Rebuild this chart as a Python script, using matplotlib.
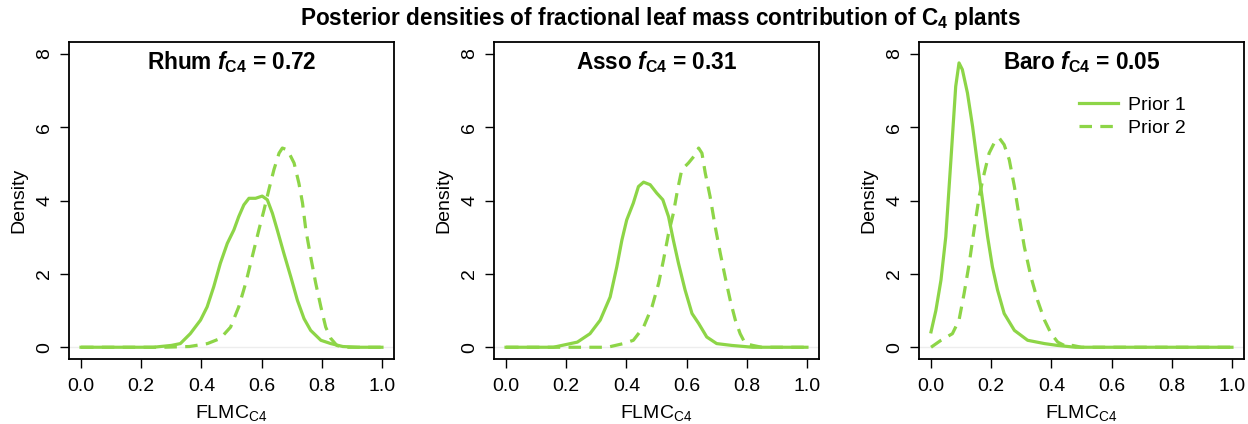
import numpy as np
import matplotlib
matplotlib.use("Agg")
import matplotlib.pyplot as plt

plt.rcParams['font.family'] = ['Liberation Sans', 'DejaVu Sans']
plt.rcParams['mathtext.fontset'] = 'custom'
plt.rcParams['mathtext.rm'] = 'Liberation Sans'
plt.rcParams['mathtext.it'] = 'Liberation Sans:italic:bold'
plt.rcParams['mathtext.bf'] = 'Liberation Sans:bold'
plt.rcParams['lines.scale_dashes'] = False

sites = ["Rhum", "Asso", "Baro"]
fc4 = ["0.72", "0.31", "0.05"]

# densities (x = FLMC_C4, y = density)
rhum_p1_x = [0.0, 0.24, 0.30, 0.33, 0.363, 0.397, 0.419, 0.441, 0.463, 0.486, 0.508, 0.524, 0.541, 0.558, 0.58, 0.602,
             0.619, 0.636, 0.652, 0.674, 0.697, 0.719, 0.741, 0.763, 0.797, 0.83, 0.87, 0.92, 1.0]
rhum_p1_y = [0.0, 0.0, 0.05, 0.1, 0.37, 0.74, 1.1, 1.65, 2.29, 2.83, 3.2, 3.56, 3.88, 4.06, 4.06, 4.12,
             4.02, 3.65, 3.2, 2.56, 1.92, 1.28, 0.78, 0.46, 0.19, 0.1, 0.02, 0.0, 0.0]
rhum_p2_x = [0.0, 0.27, 0.36, 0.42, 0.463, 0.497, 0.524, 0.547, 0.569, 0.591, 0.608, 0.624, 0.641, 0.658, 0.669, 0.686,
             0.708, 0.724, 0.736, 0.747, 0.763, 0.78, 0.797, 0.813, 0.83, 0.85, 0.87, 1.0]
rhum_p2_y = [0.0, 0.0, 0.02, 0.1, 0.24, 0.55, 1.1, 1.74, 2.47, 3.2, 3.74, 4.29, 4.84, 5.29, 5.43, 5.38,
             5.02, 4.47, 3.93, 3.2, 2.47, 1.74, 1.1, 0.55, 0.24, 0.05, 0.0, 0.0]

asso_p1_x = [0.0, 0.157, 0.237, 0.279, 0.313, 0.346, 0.368, 0.385, 0.401, 0.423, 0.44, 0.457, 0.479, 0.501, 0.521,
             0.54, 0.556, 0.573, 0.595, 0.618, 0.64, 0.667, 0.70, 0.75, 0.82, 1.0]
asso_p1_y = [0.0, 0.0, 0.14, 0.37, 0.74, 1.37, 2.19, 2.92, 3.47, 3.93, 4.38, 4.5, 4.43, 4.2, 4.02,
             3.56, 2.92, 2.29, 1.56, 0.92, 0.65, 0.28, 0.1, 0.05, 0.0, 0.0]
asso_p2_x = [0.0, 0.2, 0.337, 0.39, 0.423, 0.457, 0.485, 0.507, 0.523, 0.54, 0.556, 0.57, 0.584, 0.606, 0.629, 0.64,
             0.651, 0.662, 0.678, 0.695, 0.712, 0.728, 0.745, 0.762, 0.778, 0.795, 0.82, 0.85, 1.0]
asso_p2_y = [0.0, 0.0, 0.0, 0.1, 0.19, 0.55, 1.1, 1.74, 2.37, 3.1, 3.65, 4.29, 4.84, 5.02, 5.25, 5.43,
             5.29, 4.75, 4.11, 3.29, 2.56, 1.92, 1.28, 0.74, 0.37, 0.1, 0.05, 0.0, 0.0]

baro_p1_x = [0.0, 0.016, 0.033, 0.049, 0.066, 0.082, 0.093, 0.104, 0.121, 0.138, 0.154, 0.171, 0.188, 0.204, 0.221,
             0.243, 0.277, 0.321, 0.377, 0.42, 0.48, 1.0]
baro_p1_y = [0.42, 1.0, 1.83, 3.01, 5.1, 7.11, 7.75, 7.57, 6.93, 6.02, 5.02, 4.02, 3.01, 2.19, 1.56,
             0.92, 0.46, 0.19, 0.1, 0.05, 0.0, 0.0]
baro_p2_x = [0.0, 0.033, 0.071, 0.093, 0.11, 0.127, 0.143, 0.16, 0.177, 0.193, 0.21, 0.227, 0.243, 0.26, 0.277,
             0.293, 0.31, 0.332, 0.354, 0.377, 0.399, 0.421, 0.45, 0.47, 0.5, 1.0]
baro_p2_y = [0.0, 0.19, 0.37, 0.74, 1.47, 2.29, 3.2, 4.11, 4.75, 5.29, 5.57, 5.7, 5.52, 5.11, 4.38,
             3.56, 2.74, 1.92, 1.28, 0.74, 0.37, 0.14, 0.02, 0.05, 0.0, 0.0]

curves = [
    (rhum_p1_x, rhum_p1_y, rhum_p2_x, rhum_p2_y),
    (asso_p1_x, asso_p1_y, asso_p2_x, asso_p2_y),
    (baro_p1_x, baro_p1_y, baro_p2_x, baro_p2_y),
]

green = '#8DD547'
fs = 14

fig = plt.figure(figsize=(12.48, 4.24), dpi=100)
lefts = [69, 494, 919]
for i in range(3):
    ax = fig.add_axes([lefts[i] / 1248, 65 / 424, 325 / 1248, 317 / 424])
    x1, y1, x2, y2 = curves[i]
    ax.axhline(0, color='#ededed', lw=1, zorder=1)
    l1, = ax.plot(x1, y1, color=green, lw=2.3, solid_joinstyle='round', zorder=3)
    l2, = ax.plot(x2, y2, color=green, lw=2.3, dashes=(9, 6), dash_joinstyle='round', zorder=2)
    ax.set_xlim(-0.04, 1.04)
    ax.set_ylim(-0.32, 8.32)
    ax.set_xticks([0.0, 0.2, 0.4, 0.6, 0.8, 1.0])
    ax.set_xticklabels(['0.0', '0.2', '0.4', '0.6', '0.8', '1.0'])
    ax.set_yticks([0, 2, 4, 6, 8])
    ax.tick_params(direction='out', length=6.5, width=1, labelsize=fs, colors='black')
    ax.tick_params(axis='x', pad=7)
    ax.tick_params(axis='y', pad=5)
    for t in ax.get_yticklabels():
        t.set_rotation(90)
        t.set_va('center')
    for s in ax.spines.values():
        s.set_linewidth(1.3)
    ax.set_xlabel(r'FLMC$_\mathrm{C4}$', fontsize=fs, va='center')
    ax.xaxis.set_label_coords(0.5, -0.17)
    ax.set_ylabel('Density', fontsize=fs, va='center')
    ax.yaxis.set_label_coords(-0.155, 0.5)
    ax.text(0.5, 0.937, sites[i] + r' $\mathit{f}_\mathbf{C4}$ = ' + fc4[i],
            transform=ax.transAxes, ha='center', va='center',
            fontsize=16.3, fontweight='bold')
    if i == 2:
        ax.legend([l1, l2], ['Prior 1', 'Prior 2'], loc='upper left',
                  bbox_to_anchor=(0.492, 0.83), frameon=False, fontsize=fs,
                  handlelength=2.0, handletextpad=0.55, labelspacing=0.3,
                  borderpad=0, borderaxespad=0)

fig.text(661 / 1248, 1 - 18 / 424,
         r'Posterior densities of fractional leaf mass contribution of C$_\mathbf{4}$ plants',
         ha='center', va='center', fontsize=16.3, fontweight='bold')

fig.savefig('out.png', dpi=100)
